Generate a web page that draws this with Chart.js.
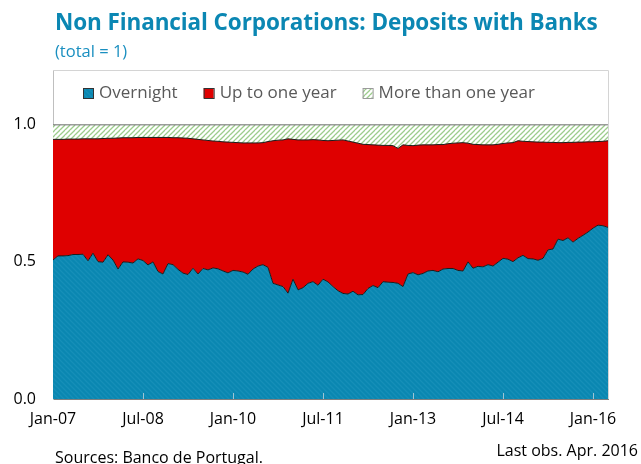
<!DOCTYPE html>
<html>
<head>
<meta charset="utf-8">
<script src="https://cdn.jsdelivr.net/npm/chart.js@4.4.1/dist/chart.umd.min.js"></script>
<style>
  body { margin: 0; background: #fff; }
  #wrap { position: relative; width: 641px; height: 464px; overflow: hidden; font-family: "Open Sans", sans-serif; }
  #chart { position: absolute; left: 0; top: 0; }
  .title { position: absolute; left: 55px; top: 6px; font-weight: bold; font-size: 22.5px; color: #0b87b3; white-space: nowrap; letter-spacing: -0.1px; }
  .subtitle { position: absolute; left: 55px; top: 39px; font-size: 16.5px; color: #1a8fc0; }
  .source { position: absolute; left: 55px; top: 446px; font-size: 16px; color: #000; }
  .lastobs { position: absolute; right: 3px; top: 439px; font-size: 16px; color: #000; }
</style>
</head>
<body>
<div id="wrap">
  <canvas id="chart" width="641" height="464"></canvas>
  <div class="title">Non Financial Corporations: Deposits with Banks</div>
  <div class="subtitle">(total = 1)</div>
  <div class="source">Sources: Banco de Portugal.</div>
  <div class="lastobs">Last obs. Apr. 2016</div>
</div>
<script>
// monthly shares, Jan-07 .. Apr-16
var overnight = [0.507,0.522,0.522,0.523,0.527,0.527,0.528,0.504,0.532,0.501,
  0.499,0.526,0.507,0.474,0.500,0.499,0.496,0.511,0.505,0.489,
  0.500,0.465,0.456,0.494,0.490,0.473,0.459,0.454,0.477,0.456,
  0.476,0.471,0.478,0.475,0.467,0.460,0.469,0.467,0.463,0.455,
  0.474,0.485,0.490,0.480,0.422,0.416,0.410,0.386,0.437,0.398,
  0.406,0.422,0.428,0.415,0.437,0.427,0.410,0.395,0.385,0.383,
  0.393,0.380,0.381,0.403,0.414,0.406,0.428,0.426,0.425,0.422,
  0.410,0.456,0.461,0.453,0.458,0.467,0.469,0.464,0.474,0.476,
  0.476,0.469,0.467,0.500,0.477,0.484,0.482,0.490,0.485,0.499,
  0.513,0.510,0.501,0.515,0.524,0.512,0.511,0.506,0.513,0.544,
  0.547,0.583,0.578,0.588,0.572,0.586,0.597,0.609,0.623,0.634,
  0.632,0.626];

var upToYear = [0.440,0.425,0.425,0.425,0.421,0.421,0.421,0.445,0.417,0.448,
  0.451,0.425,0.444,0.478,0.453,0.454,0.457,0.443,0.449,0.465,
  0.454,0.489,0.498,0.460,0.463,0.480,0.493,0.497,0.472,0.491,
  0.469,0.472,0.463,0.465,0.471,0.477,0.467,0.468,0.471,0.479,
  0.460,0.449,0.445,0.459,0.520,0.528,0.535,0.563,0.510,0.547,
  0.539,0.523,0.518,0.530,0.506,0.515,0.533,0.549,0.560,0.558,
  0.544,0.553,0.548,0.525,0.513,0.520,0.497,0.499,0.499,0.492,
  0.517,0.469,0.463,0.473,0.469,0.460,0.458,0.464,0.454,0.455,
  0.457,0.465,0.468,0.433,0.452,0.444,0.445,0.437,0.442,0.430,
  0.419,0.424,0.434,0.427,0.416,0.427,0.427,0.431,0.424,0.392,
  0.389,0.352,0.357,0.348,0.364,0.351,0.340,0.329,0.315,0.305,
  0.308,0.316];

var moreThanYear = [0.053,0.053,0.053,0.052,0.052,0.052,0.051,0.051,0.051,0.051,
  0.050,0.049,0.049,0.048,0.047,0.047,0.047,0.046,0.046,0.046,
  0.046,0.046,0.046,0.046,0.047,0.047,0.048,0.049,0.051,0.053,
  0.055,0.057,0.059,0.060,0.062,0.063,0.064,0.065,0.066,0.066,
  0.066,0.066,0.065,0.061,0.058,0.056,0.055,0.051,0.053,0.055,
  0.055,0.055,0.054,0.055,0.057,0.058,0.057,0.056,0.055,0.059,
  0.063,0.067,0.071,0.072,0.073,0.074,0.075,0.075,0.076,0.086,
  0.073,0.075,0.076,0.074,0.073,0.073,0.073,0.072,0.072,0.069,
  0.067,0.066,0.065,0.067,0.071,0.072,0.073,0.073,0.073,0.071,
  0.068,0.066,0.065,0.058,0.060,0.061,0.062,0.063,0.063,0.064,
  0.064,0.065,0.065,0.064,0.064,0.063,0.063,0.062,0.062,0.061,
  0.060,0.058];

var seriesNames = ["Overnight", "Up to one year", "More than one year"];
var yTicks = [0, 0.5, 1.0];

var monthNames = ["Jan","Feb","Mar","Apr","May","Jun","Jul","Aug","Sep","Oct","Nov","Dec"];
var months = [];
for (var i = 0; i < overnight.length; i++) {
  var yr = 7 + Math.floor(i / 12);
  months.push(monthNames[i % 12] + "-" + (yr < 10 ? "0" + yr : yr));
}

function stripes(bg, fg, size, dir) {
  var c = document.createElement("canvas");
  c.width = size; c.height = size;
  var g = c.getContext("2d");
  g.fillStyle = bg;
  g.fillRect(0, 0, size, size);
  g.strokeStyle = fg;
  g.lineWidth = 1.3;
  g.beginPath();
  if (dir > 0) {
    g.moveTo(0, size); g.lineTo(size, 0);
    g.moveTo(-size, size); g.lineTo(0, 0);
    g.moveTo(0, 2 * size); g.lineTo(2 * size, 0);
  } else {
    g.moveTo(0, 0); g.lineTo(size, size);
    g.moveTo(-size, 0); g.lineTo(size, 2 * size);
    g.moveTo(0, -size); g.lineTo(2 * size, size);
  }
  g.stroke();
  return g.createPattern(c, "repeat");
}

var blueFill = stripes("#0a87b1", "#168fb8", 5, -1);
var greenFill = stripes("#ffffff", "#9ccc8c", 5, 1);
var redFill = "#df0000";

var frame = {
  id: "frame",
  afterDatasetsDraw: function(chart) {
    var ctx = chart.ctx, a = chart.chartArea, x = chart.scales.x;
    ctx.save();
    ctx.strokeStyle = "#d4d4d4";
    ctx.lineWidth = 1;
    ctx.beginPath();
    ctx.moveTo(a.left, a.top + 0.5); ctx.lineTo(a.right + 0.5, a.top + 0.5);
    ctx.lineTo(a.right + 0.5, a.bottom);
    ctx.stroke();
    // small inside tick marks on the time axis
    ctx.strokeStyle = "#9fc3d3";
    for (var i = 18; i < months.length; i += 18) {
      var px = Math.round(x.getPixelForValue(i)) + 0.5;
      ctx.beginPath();
      ctx.moveTo(px, a.bottom); ctx.lineTo(px, a.bottom - 6);
      ctx.stroke();
    }
    // legend inside the frame
    var fills = [blueFill, redFill, greenFill];
    ctx.font = '17px "Open Sans"';
    ctx.textBaseline = "middle";
    var lx = a.left + 30, ly = 93;
    for (var k = 0; k < seriesNames.length; k++) {
      ctx.fillStyle = fills[k];
      ctx.fillRect(lx, ly - 5, 10, 10);
      ctx.strokeStyle = k === 2 ? "#9a9a9a" : "#333";
      ctx.strokeRect(lx + 0.5, ly - 4.5, 10, 10);
      ctx.fillStyle = "#595959";
      ctx.fillText(seriesNames[k], lx + 16, ly);
      lx += 16 + ctx.measureText(seriesNames[k]).width + 26;
    }
    ctx.restore();
  }
};

new Chart(document.getElementById("chart"), {
  type: "line",
  data: {
    labels: months,
    datasets: [
      { label: seriesNames[0], data: overnight, fill: "origin", backgroundColor: blueFill,
        borderColor: "#1c1c1c", borderWidth: 1, pointRadius: 0, tension: 0 },
      { label: seriesNames[1], data: upToYear, fill: "-1", backgroundColor: redFill,
        borderColor: "#1c1c1c", borderWidth: 1, pointRadius: 0, tension: 0 },
      { label: seriesNames[2], data: moreThanYear, fill: "-1", backgroundColor: greenFill,
        borderColor: "#6d6d6d", borderWidth: 1, pointRadius: 0, tension: 0 }
    ]
  },
  options: {
    responsive: false,
    animation: false,
    layout: { padding: { top: 70, right: 33, bottom: 25, left: 0 } },
    plugins: { legend: { display: false }, tooltip: { enabled: false } },
    scales: {
      x: {
        grid: { display: false, drawTicks: false },
        border: { display: true, color: "#7f7f7f", width: 1 },
        afterFit: function(s) { s.height = 40; },
        ticks: {
          autoSkip: false, maxRotation: 0, padding: 11, color: "#000",
          font: { family: "Open Sans", size: 16 },
          callback: function(v, i) { return i % 18 === 0 ? months[i] : null; }
        }
      },
      y: {
        stacked: true, min: 0, max: 1.2,
        grid: { display: false, drawTicks: false },
        border: { display: true, color: "#bfbfbf", width: 1 },
        afterFit: function(s) { s.width = 53; },
        afterBuildTicks: function(s) { s.ticks = yTicks.map(function(v) { return { value: v }; }); },
        ticks: {
          padding: 17, color: "#000",
          font: { family: "Open Sans", size: 16 },
          callback: function(v) { return v.toFixed(1); }
        }
      }
    }
  },
  plugins: [frame]
});
</script>
</body>
</html>
